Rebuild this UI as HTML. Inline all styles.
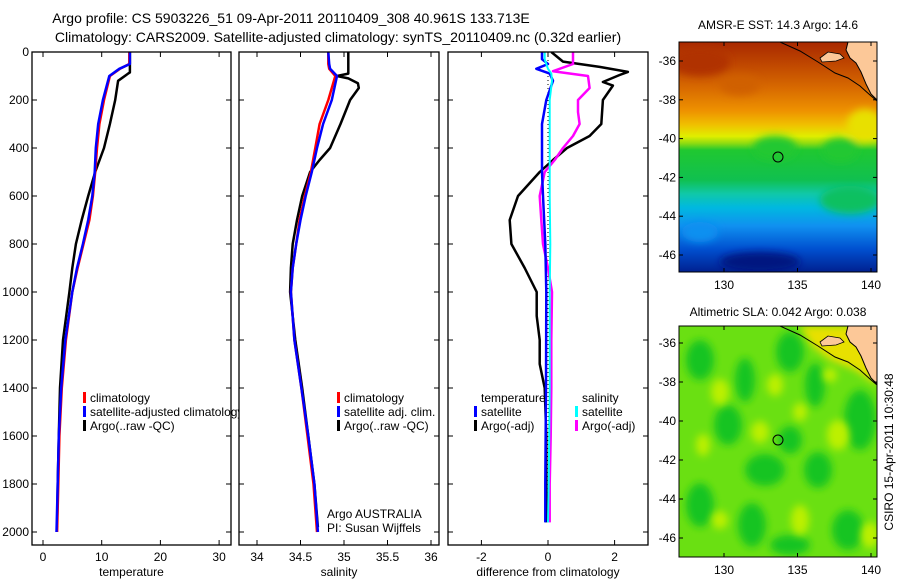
<!DOCTYPE html>
<html><head><meta charset="utf-8">
<style>
html,body{margin:0;padding:0;background:#fff;}
svg{display:block;font-family:"Liberation Sans",sans-serif;}
text{fill:#000;}
</style></head>
<body>
<svg id="fig" width="900" height="580" viewBox="0 0 900 580" xmlns="http://www.w3.org/2000/svg">
<defs>
  <linearGradient id="sstGrad" x1="0" y1="0" x2="0" y2="1">
    <stop offset="0" stop-color="#a82800"/>
    <stop offset="0.1" stop-color="#c04800"/>
    <stop offset="0.2" stop-color="#d86a00"/>
    <stop offset="0.3" stop-color="#ee9200"/>
    <stop offset="0.36" stop-color="#f0c000"/>
    <stop offset="0.41" stop-color="#e0ee00"/>
    <stop offset="0.44" stop-color="#90dc10"/>
    <stop offset="0.47" stop-color="#20c830"/>
    <stop offset="0.6" stop-color="#10c050"/>
    <stop offset="0.66" stop-color="#10c8a8"/>
    <stop offset="0.72" stop-color="#00b8e0"/>
    <stop offset="0.8" stop-color="#1090f0"/>
    <stop offset="0.9" stop-color="#0050d0"/>
    <stop offset="1" stop-color="#002090"/>
  </linearGradient>
  <filter id="soft" x="-20%" y="-20%" width="140%" height="140%"><feGaussianBlur stdDeviation="4"/></filter>
  <clipPath id="clipTop"><rect x="679" y="42" width="198" height="230"/></clipPath>
  <clipPath id="clipBot"><rect x="679" y="326" width="198" height="231"/></clipPath>
  <clipPath id="clipP1"><rect x="32" y="52" width="199" height="493"/></clipPath>
  <clipPath id="clipP2"><rect x="239" y="52" width="200" height="493"/></clipPath>
  <clipPath id="clipP3"><rect x="448" y="52" width="200" height="493"/></clipPath>
</defs>

<text x="291" y="23" font-size="14" text-anchor="middle">Argo profile: CS 5903226_51 09-Apr-2011 20110409_308 40.961S 133.713E</text>
<text x="338" y="42" font-size="14" text-anchor="middle">Climatology: CARS2009. Satellite-adjusted climatology: synTS_20110409.nc (0.32d earlier)</text>

<g id="p1"></g>
<g id="p2"></g>
<g id="p3"></g>

<!-- SST map -->
<g>
  <text x="778" y="29" font-size="12" text-anchor="middle">AMSR-E SST: 14.3 Argo: 14.6</text>
  <g clip-path="url(#clipTop)">
    <rect x="679" y="42" width="198" height="230" fill="url(#sstGrad)"/>
    <g filter="url(#soft)">
      <ellipse cx="775" cy="148" rx="22" ry="12" fill="#20c830"/>
      <ellipse cx="840" cy="150" rx="18" ry="12" fill="#20c830"/>
      <ellipse cx="700" cy="62" rx="30" ry="14" fill="#b03000"/>
      <ellipse cx="740" cy="85" rx="20" ry="10" fill="#d06000"/>
      <ellipse cx="865" cy="125" rx="18" ry="16" fill="#e8e000"/>
      <ellipse cx="850" cy="200" rx="30" ry="14" fill="#10c060"/>
      <ellipse cx="760" cy="262" rx="40" ry="10" fill="#001880"/>
      <ellipse cx="700" cy="232" rx="18" ry="10" fill="#1090f0"/>
    </g>
    <polygon points="848,42 877,42 877,100 871,94 866,84 861,72 856,63 850,58 846,50" fill="#fcc898"/>
    <polygon points="820,58 828,52 840,54 844,58 836,61 822,62" fill="#fcc898" stroke="#000" stroke-width="0.8"/>
    <polyline points="780,42 800,51 818,62 835,73 848,78 860,86 870,95 877,101" fill="none" stroke="#000" stroke-width="1"/>
    <polyline points="848,42 846,50 850,58 856,63 861,72 866,84 871,94 877,100" fill="none" stroke="#000" stroke-width="1"/>
    <circle cx="778" cy="157" r="5" fill="none" stroke="#000" stroke-width="1"/>
  </g>
  <rect x="679" y="42" width="198" height="230" fill="none" stroke="#000" stroke-width="1"/>
  <g id="mapTopAxes"></g>
</g>

<!-- SLA map -->
<g>
  <text x="778" y="316" font-size="12" text-anchor="middle">Altimetric SLA: 0.042 Argo: 0.038</text>
  <g clip-path="url(#clipBot)">
    <rect x="679" y="326" width="198" height="231" fill="#6ae012"/>
    <g fill="#18c420" filter="url(#soft)">
      <ellipse cx="700" cy="360" rx="14" ry="20"/><ellipse cx="745" cy="380" rx="10" ry="22"/>
      <ellipse cx="790" cy="352" rx="14" ry="20"/><ellipse cx="815" cy="385" rx="10" ry="22"/>
      <ellipse cx="860" cy="420" rx="16" ry="30"/><ellipse cx="728" cy="425" rx="14" ry="20"/>
      <ellipse cx="765" cy="470" rx="20" ry="16"/><ellipse cx="700" cy="505" rx="14" ry="22"/>
      <ellipse cx="752" cy="525" rx="14" ry="22"/><ellipse cx="818" cy="470" rx="14" ry="18"/>
      <ellipse cx="848" cy="530" rx="16" ry="20"/><ellipse cx="790" cy="440" rx="12" ry="14"/>
      <ellipse cx="790" cy="545" rx="20" ry="10"/>
    </g>
    <g fill="#bcf000" filter="url(#soft)">
      <ellipse cx="720" cy="392" rx="9" ry="13"/><ellipse cx="760" cy="432" rx="9" ry="11"/>
      <ellipse cx="775" cy="385" rx="8" ry="11"/><ellipse cx="838" cy="435" rx="11" ry="15"/>
      <ellipse cx="800" cy="520" rx="9" ry="15"/><ellipse cx="870" cy="535" rx="9" ry="13"/>
      <ellipse cx="703" cy="445" rx="7" ry="11"/><ellipse cx="720" cy="520" rx="8" ry="9"/>
      <ellipse cx="800" cy="412" rx="7" ry="9"/><ellipse cx="830" cy="375" rx="7" ry="7"/>
    </g>
    <polygon points="800,326 877,326 877,385 855,370 830,360 812,346" fill="#e8e000" filter="url(#soft)"/>
    <polygon points="848,326 877,326 877,384 871,378 866,368 861,356 856,347 850,342 846,334" fill="#fcc898"/>
    <polygon points="820,342 828,336 840,338 844,342 836,345 822,346" fill="#fcc898" stroke="#000" stroke-width="0.8"/>
    <polyline points="780,326 800,335 818,346 835,357 848,362 860,370 870,379 877,385" fill="none" stroke="#000" stroke-width="1"/>
    <polyline points="848,326 846,334 850,342 856,347 861,356 866,368 871,378 877,384" fill="none" stroke="#000" stroke-width="1"/>
    <circle cx="778" cy="440" r="5" fill="none" stroke="#000" stroke-width="1"/>
  </g>
  <rect x="679" y="326" width="198" height="231" fill="none" stroke="#000" stroke-width="1"/>
  <g id="mapBotAxes"></g>
</g>

<text transform="translate(893,452) rotate(-90)" font-size="12" text-anchor="middle">CSIRO 15-Apr-2011 10:30:48</text>

<script>
// ---- Data ----
const tDepth = [0, 50, 70, 100, 200, 300, 400, 500, 600, 700, 800, 900, 1000, 1200, 1400, 1600, 1800, 2000];
const tClim  = [14.7, 14.7, 13.1, 11.4, 10.4, 9.6, 9.2, 8.9, 8.5, 7.9, 6.9, 5.9, 5.0, 3.9, 3.2, 2.8, 2.6, 2.4];
const tSat   = [14.8, 14.8, 13.0, 11.3, 10.2, 9.4, 9.0, 8.8, 8.4, 7.7, 6.8, 5.8, 5.0, 3.8, 3.1, 2.7, 2.5, 2.3];
const tArgoDepth = [0, 85, 90, 120, 200, 300, 400, 500, 600, 700, 800, 900, 1000, 1200, 1400, 1600, 1800, 1980];
const tArgo  = [14.8, 14.8, 14.5, 12.8, 12.3, 11.4, 10.4, 8.9, 7.7, 6.6, 5.6, 5.0, 4.5, 3.4, 2.9, 2.7, 2.5, 2.4];

const sDepth = [0, 50, 70, 100, 150, 200, 300, 400, 500, 600, 700, 800, 900, 1000, 1200, 1400, 1600, 1800, 2000];
const sClim  = [34.82, 34.82, 34.83, 34.90, 34.86, 34.82, 34.72, 34.67, 34.62, 34.55, 34.49, 34.45, 34.41, 34.39, 34.43, 34.51, 34.58, 34.65, 34.69];
const sSat   = [34.82, 34.83, 34.84, 34.92, 34.89, 34.86, 34.76, 34.69, 34.63, 34.56, 34.50, 34.45, 34.41, 34.39, 34.43, 34.51, 34.59, 34.66, 34.70];
const sArgoDepth = [0, 90, 100, 110, 130, 150, 200, 300, 400, 450, 500, 600, 700, 800, 900, 1000, 1200, 1400, 1600, 1800, 1980];
const sArgo  = [35.05, 35.05, 34.92, 35.05, 35.16, 35.17, 35.07, 34.96, 34.84, 34.72, 34.61, 34.52, 34.46, 34.41, 34.39, 34.38, 34.44, 34.52, 34.59, 34.66, 34.70];

const dTDepth = [0, 40, 62, 83, 96, 125, 140, 200, 300, 350, 400, 450, 500, 600, 700, 800, 900, 1000, 1100, 1200, 1300, 1400, 1600, 1800, 1960];
const dTArgo  = [0.1, 0.45, 1.55, 2.4, 2.15, 1.65, 1.95, 1.65, 1.6, 1.25, 0.57, 0.15, -0.25, -0.9, -1.15, -1.1, -0.7, -0.34, -0.34, -0.25, -0.25, -0.1, -0.05, -0.05, -0.05];
const dSDepth = [0, 50, 80, 100, 150, 200, 250, 300, 350, 400, 450, 500, 600, 700, 800, 900, 1000, 1200, 1400, 1600, 1800, 1960];
const dSArgo  = [0.75, 0.75, 0.15, 1.2, 1.25, 0.9, 0.9, 0.95, 0.75, 0.45, 0.2, -0.1, -0.25, -0.2, -0.15, 0, 0.12, 0.1, 0.1, 0.08, 0.05, 0.05];
const dSatDepth = [0, 30, 50, 70, 90, 120, 200, 300, 500, 600, 800, 1000, 1400, 1800, 1960];
const dTSat   = [-0.18, -0.18, 0, -0.35, 0.05, 0.15, -0.05, -0.18, -0.18, -0.15, -0.08, -0.05, -0.06, -0.08, -0.08];
const dSSat   = [-0.1, -0.1, -0.05, 0.0, 0.1, 0.12, 0.05, 0.05, 0.05, 0.05, 0.07, 0.05, 0.05, 0.02, 0.0];

const depthTicks = [0, 200, 400, 600, 800, 1000, 1200, 1400, 1600, 1800, 2000];
const tTicks = [0, 10, 20, 30];
const sTicks = [34, 34.5, 35, 35.5, 36];
const dTicks = [-2, 0, 2];
const latTicks = [-36, -38, -40, -42, -44, -46];
const lonTicks = [130, 135, 140];

// ---- Scales ----
const NS = 'http://www.w3.org/2000/svg';
const yD = d => 52 + d * 0.24;
const xT = v => 43 + v * 5.87;
const xS = v => 257 + (v - 34) * 87;
const xDf = v => 548 + v * 33.3;
const latTop = v => 61 + (-36 - v) * 19.4;
const latBot = v => 343 + (-36 - v) * 19.5;
const lonX = v => 724 + (v - 130) * 14.7;

function mk(tag, attrs, parent) {
  const e = document.createElementNS(NS, tag);
  for (const k in attrs) e.setAttribute(k, attrs[k]);
  parent.appendChild(e);
  return e;
}
function line(parent, depths, vals, xs, color, w, name) {
  const pts = depths.map((d, i) => xs(vals[i]).toFixed(1) + ',' + yD(d).toFixed(1)).join(' ');
  const e = mk('polyline', {points: pts, fill: 'none', stroke: color, 'stroke-width': w, 'stroke-linejoin': 'round'}, parent);
  
  
  return e;
}
function panel(g, x0, x1, ticks, xs, fmt, xlabel, leftLabels, clip) {
  mk('rect', {x: x0, y: 52, width: x1 - x0, height: 493, fill: '#fff'}, g);
  const inner = mk('g', {'clip-path': 'url(#' + clip + ')'}, g);
  mk('rect', {x: x0, y: 52, width: x1 - x0, height: 493, fill: 'none', stroke: '#000', 'stroke-width': 1.3}, g);
  depthTicks.forEach(d => {
    mk('line', {x1: x0, x2: x0 + 5, y1: yD(d), y2: yD(d), stroke: '#000'}, g);
    mk('line', {x1: x1 - 5, x2: x1, y1: yD(d), y2: yD(d), stroke: '#000'}, g);
    if (leftLabels) {
      const t = mk('text', {x: 29, y: yD(d) + 4, 'font-size': 12, 'text-anchor': 'end'}, g);
      t.textContent = d;
      
      
    }
  });
  ticks.forEach(v => {
    mk('line', {x1: xs(v), x2: xs(v), y1: 545, y2: 540, stroke: '#000'}, g);
    mk('line', {x1: xs(v), x2: xs(v), y1: 52, y2: 57, stroke: '#000'}, g);
    const t = mk('text', {x: xs(v), y: 561, 'font-size': 12, 'text-anchor': 'middle'}, g);
    t.textContent = fmt(v);
    
    
  });
  const xl = mk('text', {x: (x0 + x1) / 2, y: 576, 'font-size': 12, 'text-anchor': 'middle'}, g);
  xl.textContent = xlabel;
  
  
  return inner;
}
function legend(g, x, y, color, label) {
  if (color) {
    const m = mk('rect', {x: x, y: y - 10, width: 3, height: 11, fill: color}, g);
    
    
  }
  const t = mk('text', {x: x + 7, y: y, 'font-size': 12}, g);
  t.textContent = label;
  
  
}

// Panel 1
const g1 = document.getElementById('p1');
const i1 = panel(g1, 32, 231, tTicks, xT, v => v, 'temperature', true, 'clipP1');
line(i1, tArgoDepth, tArgo, xT, '#000', 2.5, 'temp-argo-line');
line(i1, tDepth, tClim, xT, '#f00', 2.5, 'temp-climatology-line');
line(i1, tDepth, tSat, xT, '#00f', 2.5, 'temp-satellite-line');
legend(g1, 83, 402, '#f00', 'climatology');
legend(g1, 83, 416, '#00f', 'satellite-adjusted climatology');
legend(g1, 83, 430, '#000', 'Argo(..raw -QC)');

// Panel 2
const g2 = document.getElementById('p2');
const i2 = panel(g2, 239, 439, sTicks, xS, v => v, 'salinity', false, 'clipP2');
line(i2, sArgoDepth, sArgo, xS, '#000', 2.5, 'sal-argo-line');
line(i2, sDepth, sClim, xS, '#f00', 2.5, 'sal-climatology-line');
line(i2, sDepth, sSat, xS, '#00f', 2.5, 'sal-satellite-line');
legend(g2, 337, 402, '#f00', 'climatology');
legend(g2, 337, 416, '#00f', 'satellite adj. clim.');
legend(g2, 337, 430, '#000', 'Argo(..raw -QC)');
legend(g2, 320, 518, null, 'Argo AUSTRALIA');
legend(g2, 320, 532, null, 'PI: Susan Wijffels');

// Panel 3
const g3 = document.getElementById('p3');
const i3 = panel(g3, 448, 648, dTicks, xDf, v => v, 'difference from climatology', false, 'clipP3');
const z = mk('line', {x1: xDf(0), x2: xDf(0), y1: 52, y2: yD(1950), stroke: '#000', 'stroke-width': 1, 'stroke-dasharray': '1,3'}, i3);


line(i3, dTDepth, dTArgo, xDf, '#000', 2.5, 'temp-argo-diff-line');
line(i3, dSDepth, dSArgo, xDf, '#f0f', 2.5, 'sal-argo-diff-line');
line(i3, dSatDepth, dTSat, xDf, '#00f', 2.5, 'temp-satellite-diff-line');
line(i3, dSatDepth, dSSat, xDf, '#0ff', 2, 'sal-satellite-diff-line');
legend(g3, 474, 402, null, 'temperature');
legend(g3, 474, 416, '#00f', 'satellite');
legend(g3, 474, 430, '#000', 'Argo(-adj)');
legend(g3, 575, 402, null, 'salinity');
legend(g3, 575, 416, '#0ff', 'satellite');
legend(g3, 575, 430, '#f0f', 'Argo(-adj)');

// Map axes
function mapAxes(id, latF, yTop, yBot) {
  const g = document.getElementById(id);
  latTicks.forEach(v => {
    const y = latF(v);
    mk('line', {x1: 679, x2: 683, y1: y, y2: y, stroke: '#000'}, g);
    mk('line', {x1: 873, x2: 877, y1: y, y2: y, stroke: '#000'}, g);
    const t = mk('text', {x: 676, y: y + 4, 'font-size': 12, 'text-anchor': 'end'}, g);
    t.textContent = v;
    
    
  });
  lonTicks.forEach(v => {
    const x = lonX(v);
    mk('line', {x1: x, x2: x, y1: yBot, y2: yBot - 4, stroke: '#000'}, g);
    mk('line', {x1: x, x2: x, y1: yTop, y2: yTop + 4, stroke: '#000'}, g);
    const t = mk('text', {x: x, y: yBot + 17, 'font-size': 12, 'text-anchor': 'middle'}, g);
    t.textContent = v;
    
    
  });
}
mapAxes('mapTopAxes', latTop, 42, 272);
mapAxes('mapBotAxes', latBot, 326, 557);
</script>
</svg>
</body></html>
